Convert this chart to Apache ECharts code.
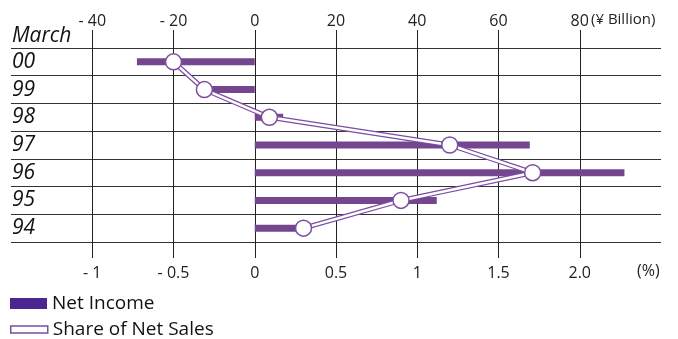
<!DOCTYPE html>
<html>
<head>
<meta charset="utf-8">
<script src="https://cdn.jsdelivr.net/npm/echarts@6/dist/echarts.min.js"></script>
<style>
  html, body { margin: 0; padding: 0; background: #fff; }
  #chart { width: 678px; height: 339px; }
</style>
</head>
<body>
<div id="chart"></div>
<script>
// Fiscal years ending March, listed top to bottom
const years = ['00', '99', '98', '97', '96', '95', '94'];
// Net income, ¥ billion
const netIncome = [-29, -11, 7, 67.7, 91, 44.8, 11];
// Net income as a share of net sales, %
const shareOfSales = [-0.5, -0.31, 0.09, 1.2, 1.71, 0.9, 0.3];
// Tick values for the two value axes
const billionTicks = [-40, -20, 0, 20, 40, 60, 80];
const percentTicks = [-1, -0.5, 0, 0.5, 1, 1.5, 2];

const FONT = '"Open Sans", "Noto Sans", sans-serif';
const INK = '#222';
const BAR = '#74468f';
const LINE = '#7a4ea0';

const fmtSigned = (v, digits) => {
  const s = digits ? Math.abs(v).toFixed(digits) : String(Math.abs(v));
  return v < 0 ? '- ' + s : s;
};

const chart = echarts.init(document.getElementById('chart'), null, { renderer: 'canvas' });

chart.setOption({
  animation: false,
  backgroundColor: '#fff',
  textStyle: { fontFamily: FONT, color: INK },
  grid: { left: 11, right: 17, top: 48, bottom: 97, containLabel: false },
  xAxis: [
    {
      // percent scale along the bottom
      type: 'value', position: 'bottom', min: -1.5, max: 2.5,
      axisLine: { show: false },
      axisTick: { show: true, length: 16, customValues: percentTicks, lineStyle: { color: INK, width: 1 } },
      axisLabel: {
        customValues: percentTicks, margin: 23, fontSize: 16, color: INK, fontFamily: FONT,
        formatter: v => v === 2 ? '2.0' : fmtSigned(v)
      },
      splitLine: { show: false }
    },
    {
      // ¥ billion scale along the top
      type: 'value', position: 'top', min: -60, max: 100,
      axisLine: { show: false },
      axisTick: { show: true, length: 18, customValues: billionTicks, lineStyle: { color: INK, width: 1 } },
      axisLabel: {
        customValues: billionTicks, margin: 19, fontSize: 16, color: INK, fontFamily: FONT,
        formatter: v => fmtSigned(v)
      },
      splitLine: { show: true, lineStyle: { color: INK, width: 1 } }
    }
  ],
  yAxis: {
    type: 'category', data: years, inverse: true,
    axisLine: { show: false },
    axisTick: { show: false },
    axisLabel: {
      inside: true, margin: 1, fontSize: 21, fontStyle: 'italic', color: '#111', fontFamily: FONT
    },
    splitLine: { show: true, lineStyle: { color: '#333', width: 1 } }
  },
  legend: [
    {
      left: 10, top: 294, padding: 0, itemWidth: 37, itemHeight: 11, itemGap: 0, orient: 'vertical',
      textStyle: { fontSize: 19, color: '#111', fontFamily: FONT },
      data: [{ name: 'Net Income', icon: 'rect', itemStyle: { color: '#4b2590' } }]
    },
    {
      left: 10, top: 320, padding: 0, itemWidth: 37, itemHeight: 7, itemGap: 0, orient: 'vertical',
      textStyle: { fontSize: 19, color: '#111', fontFamily: FONT },
      data: [{
        name: 'Share of Net Sales', icon: 'rect',
        itemStyle: { color: '#fff', borderColor: LINE, borderWidth: 1.5 }
      }]
    }
  ],
  graphic: [
    { type: 'text', left: 12, top: 26, style: { text: 'March', font: 'italic 21px ' + FONT, fill: '#111' } },
    { type: 'text', left: 591, top: 12, style: { text: '(¥ Billion)', font: '15px ' + FONT, fill: INK } },
    { type: 'text', left: 637, top: 263, style: { text: '(%)', font: '16px ' + FONT, fill: INK } }
  ],
  series: [
    {
      name: 'Net Income', type: 'bar', xAxisIndex: 1, data: netIncome,
      barWidth: 7, itemStyle: { color: BAR }, z: 2
    },
    {
      // purple outer stroke of the hollow line
      name: 'Share of Net Sales', type: 'line', xAxisIndex: 0, data: shareOfSales,
      symbol: 'none', lineStyle: { color: LINE, width: 5 }, z: 3
    },
    {
      // white core of the hollow line with open markers
      name: 'Share of Net Sales', type: 'line', xAxisIndex: 0, data: shareOfSales,
      symbol: 'circle', symbolSize: 16,
      itemStyle: { color: '#fff', borderColor: LINE, borderWidth: 1.5 },
      lineStyle: { color: '#fff', width: 2.5 }, z: 4
    }
  ]
});
</script>
</body>
</html>
